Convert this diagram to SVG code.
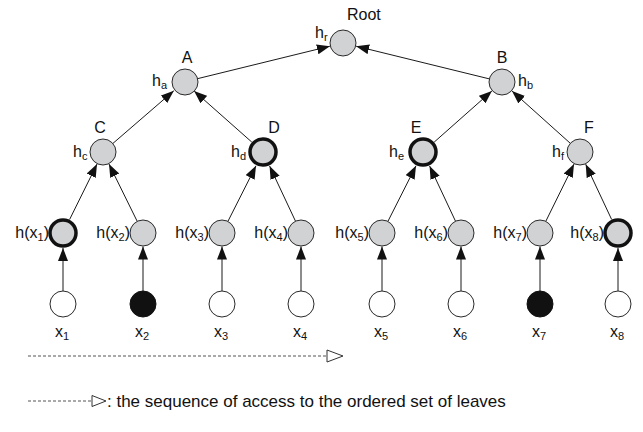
<svg xmlns="http://www.w3.org/2000/svg" width="643" height="432" viewBox="0 0 643 432">
  <style>
    text { font-family: "Liberation Sans", Arial, sans-serif; font-size: 16px; fill: #111; }
    .sub { font-size: 11px; }
    .legend-text { font-size: 17px; }
    .hash { fill: #d1d2d4; stroke: #2a2a2a; stroke-width: 1; }
    .hash.bold { stroke: #111; stroke-width: 3.5; }
    .leaf { fill: #fff; stroke: #2a2a2a; stroke-width: 1; }
    .leaf.dark { fill: #111; stroke: #111; }
    .edge { stroke: #1a1a1a; stroke-width: 1; fill: none; marker-end: url(#head); }
    .seq { stroke: #555; stroke-width: 1; stroke-dasharray: 3 2; fill: none; }
    .tri { fill: #fff; stroke: #333; stroke-width: 1; }
  </style>
  <defs>
    <marker id="head" markerUnits="userSpaceOnUse" markerWidth="14" markerHeight="11" refX="13" refY="5" orient="auto">
      <path d="M0,0 L13,5 L0,10 Z" fill="#111"/>
    </marker>
  </defs>

  <!-- connectors -->
  <g id="connectors">
    <line class="edge" x1="196.6" y1="78.9" x2="329.9" y2="46.2"/>
    <line class="edge" x1="489.4" y1="78.9" x2="356.1" y2="46.2"/>
    <line class="edge" x1="112.8" y1="143.5" x2="173.8" y2="90.8"/>
    <line class="edge" x1="251.8" y1="142.1" x2="194.1" y2="91.0"/>
    <line class="edge" x1="434.2" y1="142.1" x2="491.9" y2="91.0"/>
    <line class="edge" x1="570.3" y1="143.3" x2="512.0" y2="91.0"/>
    <line class="edge" x1="69.6" y1="219.5" x2="97.0" y2="164.1"/>
    <line class="edge" x1="137.2" y1="221.3" x2="109.0" y2="164.1"/>
    <line class="edge" x1="227.9" y1="221.4" x2="256.0" y2="165.8"/>
    <line class="edge" x1="295.5" y1="221.2" x2="269.6" y2="166.0"/>
    <line class="edge" x1="387.9" y1="221.4" x2="416.0" y2="165.8"/>
    <line class="edge" x1="455.5" y1="221.2" x2="429.6" y2="166.0"/>
    <line class="edge" x1="545.8" y1="221.3" x2="574.0" y2="164.1"/>
    <line class="edge" x1="611.6" y1="219.4" x2="585.7" y2="164.2"/>
    <line class="edge" x1="63" y1="291" x2="63" y2="248"/>
    <line class="edge" x1="143" y1="291" x2="143" y2="246.5"/>
    <line class="edge" x1="222" y1="291" x2="222" y2="246.5"/>
    <line class="edge" x1="301" y1="291" x2="301" y2="246.5"/>
    <line class="edge" x1="382" y1="291" x2="382" y2="246.5"/>
    <line class="edge" x1="461" y1="291" x2="461" y2="246.5"/>
    <line class="edge" x1="540" y1="291" x2="540" y2="246.5"/>
    <line class="edge" x1="618" y1="291" x2="618" y2="248"/>
  </g>

  <!-- internal nodes -->
  <g id="root">
    <circle class="hash" cx="343" cy="43" r="13"/>
    <text x="347" y="20">Root</text>
    <text x="315" y="38">h<tspan class="sub" dy="3">r</tspan></text>
  </g>
  <g id="node-A">
    <circle class="hash" cx="185" cy="82" r="13"/>
    <text x="187" y="63" text-anchor="middle">A</text>
    <text x="152" y="86">h<tspan class="sub" dy="3">a</tspan></text>
  </g>
  <g id="node-B">
    <circle class="hash" cx="502" cy="82" r="13"/>
    <text x="502" y="63" text-anchor="middle">B</text>
    <text x="518" y="86">h<tspan class="sub" dy="3">b</tspan></text>
  </g>
  <g id="node-C">
    <circle class="hash" cx="103" cy="152" r="13"/>
    <text x="100" y="133" text-anchor="middle">C</text>
    <text x="73" y="157">h<tspan class="sub" dy="3">c</tspan></text>
  </g>
  <g id="node-D">
    <circle class="hash bold" cx="263" cy="152" r="13"/>
    <text x="274" y="133" text-anchor="middle">D</text>
    <text x="231" y="157">h<tspan class="sub" dy="3">d</tspan></text>
  </g>
  <g id="node-E">
    <circle class="hash bold" cx="423" cy="152" r="13"/>
    <text x="416" y="133" text-anchor="middle">E</text>
    <text x="389" y="157">h<tspan class="sub" dy="3">e</tspan></text>
  </g>
  <g id="node-F">
    <circle class="hash" cx="580" cy="152" r="13"/>
    <text x="589" y="133" text-anchor="middle">F</text>
    <text x="552" y="157">h<tspan class="sub" dy="3">f</tspan></text>
  </g>

  <!-- leaf hash nodes -->
  <g id="hash-1"><circle class="hash bold" cx="63" cy="233" r="13"/><text x="49" y="238" text-anchor="end">h(x<tspan class="sub" dy="3">1</tspan><tspan dy="-3">)</tspan></text></g>
  <g id="hash-2"><circle class="hash" cx="143" cy="233" r="13"/><text x="130" y="238" text-anchor="end">h(x<tspan class="sub" dy="3">2</tspan><tspan dy="-3">)</tspan></text></g>
  <g id="hash-3"><circle class="hash" cx="222" cy="233" r="13"/><text x="209" y="238" text-anchor="end">h(x<tspan class="sub" dy="3">3</tspan><tspan dy="-3">)</tspan></text></g>
  <g id="hash-4"><circle class="hash" cx="301" cy="233" r="13"/><text x="288" y="238" text-anchor="end">h(x<tspan class="sub" dy="3">4</tspan><tspan dy="-3">)</tspan></text></g>
  <g id="hash-5"><circle class="hash" cx="382" cy="233" r="13"/><text x="369" y="238" text-anchor="end">h(x<tspan class="sub" dy="3">5</tspan><tspan dy="-3">)</tspan></text></g>
  <g id="hash-6"><circle class="hash" cx="461" cy="233" r="13"/><text x="448" y="238" text-anchor="end">h(x<tspan class="sub" dy="3">6</tspan><tspan dy="-3">)</tspan></text></g>
  <g id="hash-7"><circle class="hash" cx="540" cy="233" r="13"/><text x="527" y="238" text-anchor="end">h(x<tspan class="sub" dy="3">7</tspan><tspan dy="-3">)</tspan></text></g>
  <g id="hash-8"><circle class="hash bold" cx="618" cy="233" r="13"/><text x="604" y="238" text-anchor="end">h(x<tspan class="sub" dy="3">8</tspan><tspan dy="-3">)</tspan></text></g>

  <!-- leaves -->
  <g id="leaf-1"><circle class="leaf" cx="63" cy="304" r="13"/><text x="55" y="337">x<tspan class="sub" dy="3">1</tspan></text></g>
  <g id="leaf-2"><circle class="leaf dark" cx="143" cy="304" r="13"/><text x="135" y="337">x<tspan class="sub" dy="3">2</tspan></text></g>
  <g id="leaf-3"><circle class="leaf" cx="222" cy="304" r="13"/><text x="214" y="337">x<tspan class="sub" dy="3">3</tspan></text></g>
  <g id="leaf-4"><circle class="leaf" cx="301" cy="304" r="13"/><text x="293" y="337">x<tspan class="sub" dy="3">4</tspan></text></g>
  <g id="leaf-5"><circle class="leaf" cx="382" cy="304" r="13"/><text x="374" y="337">x<tspan class="sub" dy="3">5</tspan></text></g>
  <g id="leaf-6"><circle class="leaf" cx="461" cy="304" r="13"/><text x="453" y="337">x<tspan class="sub" dy="3">6</tspan></text></g>
  <g id="leaf-7"><circle class="leaf dark" cx="540" cy="304" r="13"/><text x="532" y="337">x<tspan class="sub" dy="3">7</tspan></text></g>
  <g id="leaf-8"><circle class="leaf" cx="618" cy="304" r="13"/><text x="610" y="337">x<tspan class="sub" dy="3">8</tspan></text></g>

  <!-- leaf access order -->
  <g id="sequence">
    <line class="seq" x1="28" y1="356" x2="327" y2="356"/>
    <path class="tri" d="M327,350 L343,356 L327,362 Z"/>
  </g>

  <!-- legend -->
  <g id="legend">
    <line class="seq" x1="28" y1="401" x2="92" y2="401"/>
    <path class="tri" d="M92,395.5 L106,401 L92,406.5 Z"/>
    <text class="legend-text" x="107" y="407">: the sequence of access to the ordered set of leaves</text>
  </g>
</svg>
